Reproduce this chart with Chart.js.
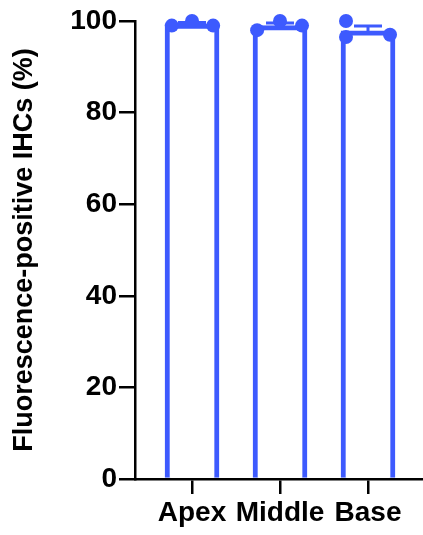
<!DOCTYPE html>
<html>
<head>
<meta charset="utf-8">
<script src="https://cdn.jsdelivr.net/npm/chart.js@4/dist/chart.umd.min.js"></script>
<style>
  html, body { margin: 0; padding: 0; background: #ffffff; }
  #wrap { width: 423px; height: 535px; }
</style>
</head>
<body>
<div id="wrap"><canvas id="c" width="423" height="535"></canvas></div>
<script>
// ---- data ----
const categories = ['Apex', 'Middle', 'Base'];
const apexValues = [99, 100, 99];
const middleValues = [98, 100, 99];
const baseValues = [100, 96.5, 97];
const yTickValues = [0, 20, 40, 60, 80, 100];
const yAxisTitle = 'Fluorescence-positive IHCs (%)';

// horizontal jitter of replicate dots (in category units)
const pointJitter = [
  [-0.23, 0, 0.24],
  [-0.26, 0, 0.25],
  [-0.25, -0.25, 0.25]
];

const groups = [apexValues, middleValues, baseValues];
const means = groups.map(g => g.reduce((a, b) => a + b, 0) / g.length);
const sems = groups.map((g, i) => {
  const m = means[i];
  const sd = Math.sqrt(g.reduce((a, v) => a + (v - m) * (v - m), 0) / (g.length - 1));
  return sd / Math.sqrt(g.length);
});

const BLUE = '#3D5AFE';
const FONT = "'Liberation Sans', Arial, Helvetica, sans-serif";

const barData = means.map((m, i) => ({ x: i, y: m }));
const dotData = [];
groups.forEach((g, i) => g.forEach((v, j) => dotData.push({ x: i + pointJitter[i][j], y: v })));

const errorBarPlugin = {
  id: 'errorBars',
  beforeDatasetDraw(chart, args) {
    if (args.index !== 1) return;
    const ctx = chart.ctx;
    const xs = chart.scales.x, ys = chart.scales.y;
    ctx.save();
    ctx.strokeStyle = BLUE;
    ctx.lineWidth = 3;
    means.forEach((m, i) => {
      const px = xs.getPixelForValue(i);
      const pTop = ys.getPixelForValue(m + sems[i]);
      const pMean = ys.getPixelForValue(m);
      ctx.beginPath();
      ctx.moveTo(px, pMean);
      ctx.lineTo(px, pTop);
      ctx.moveTo(px - 14, pTop);
      ctx.lineTo(px + 14, pTop);
      ctx.stroke();
    });
    ctx.restore();
  }
};

new Chart(document.getElementById('c'), {
  type: 'bar',
  data: {
    datasets: [
      {
        type: 'bar',
        data: barData,
        backgroundColor: '#ffffff',
        borderColor: BLUE,
        borderWidth: 5,
        borderSkipped: 'start',
        barThickness: 54,
        order: 2
      },
      {
        type: 'scatter',
        data: dotData,
        backgroundColor: BLUE,
        borderWidth: 0,
        pointRadius: 7,
        clip: false,
        order: 1
      }
    ]
  },
  options: {
    responsive: false,
    animation: false,
    devicePixelRatio: 1,
    layout: { autoPadding: false, padding: { top: 21, right: 0, bottom: 0, left: 0 } },
    plugins: { legend: { display: false }, tooltip: { enabled: false } },
    scales: {
      x: {
        type: 'linear',
        offset: false,
        min: -0.648,
        max: 2.625,
        afterBuildTicks(axis) { axis.ticks = categories.map((c, i) => ({ value: i })); },
        afterFit(scale) { scale.height = 56; scale.paddingLeft = 0; scale.paddingRight = 0; },
        ticks: {
          callback: (v) => categories[v] ?? '',
          color: '#000000',
          font: { family: FONT, size: 28, weight: 'bold' },
          padding: 2,
          maxRotation: 0,
          autoSkip: false
        },
        grid: {
          offset: false,
          drawOnChartArea: false,
          drawTicks: true,
          tickLength: 15,
          color: '#000000',
          lineWidth: 2.5
        },
        border: { display: true, color: '#000000', width: 2.5 }
      },
      y: {
        min: 0,
        max: 100,
        afterBuildTicks(axis) { axis.ticks = yTickValues.map(v => ({ value: v })); },
        afterFit(scale) { scale.width = 135; },
        ticks: {
          color: '#000000',
          font: { family: FONT, size: 28, weight: 'bold' },
          padding: 2
        },
        grid: {
          drawOnChartArea: false,
          drawTicks: true,
          tickLength: 16,
          color: '#000000',
          lineWidth: 2.5
        },
        border: { display: true, color: '#000000', width: 2.5 },
        title: {
          display: true,
          text: yAxisTitle,
          color: '#000000',
          font: { family: FONT, size: 27, weight: 'bold' },
          padding: { top: 8, bottom: 0 }
        }
      }
    }
  },
  plugins: [errorBarPlugin]
});
</script>
</body>
</html>
